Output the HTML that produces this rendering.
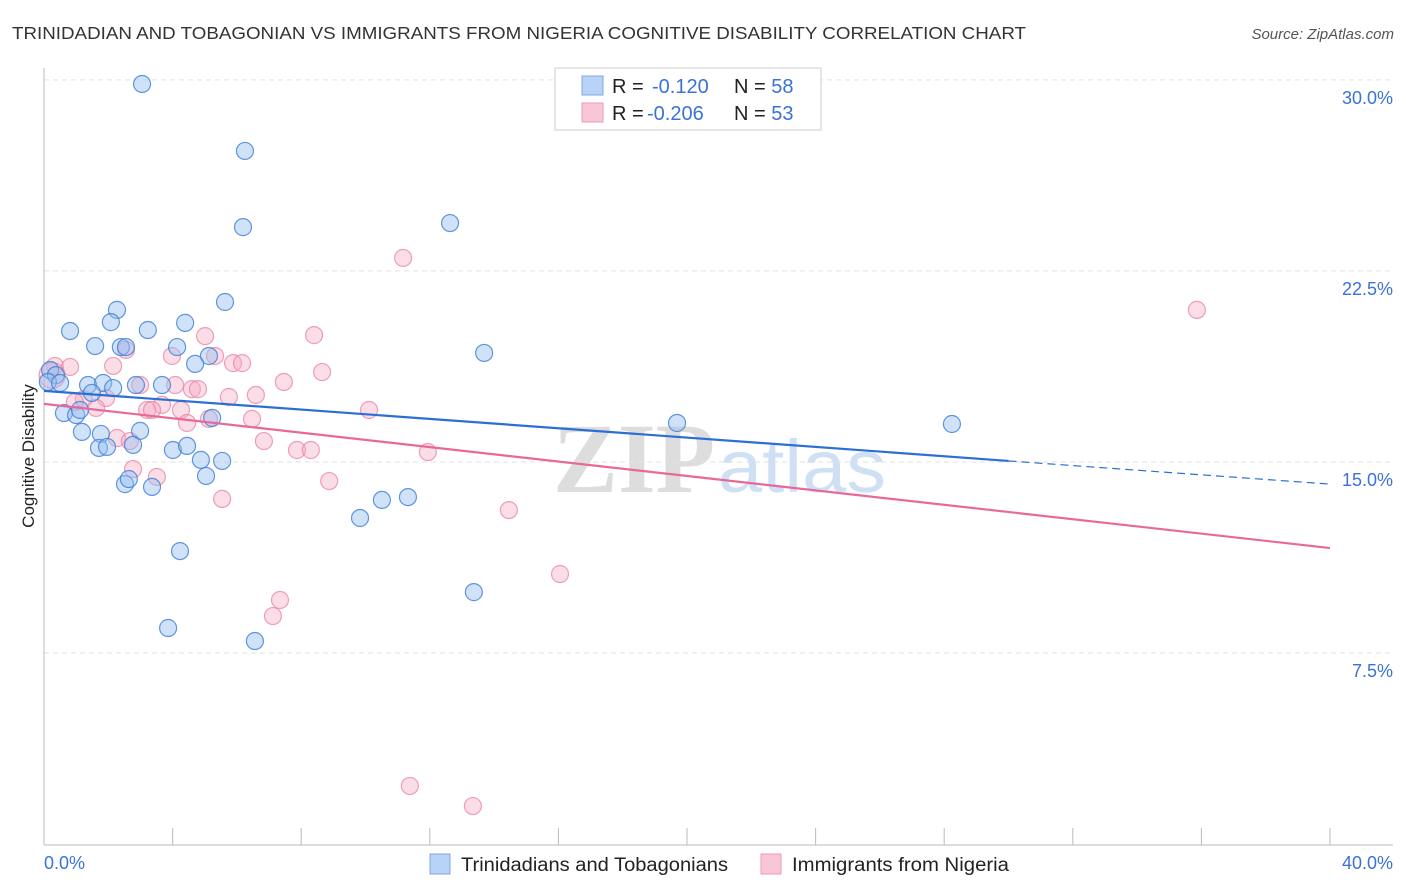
<!DOCTYPE html>
<html><head><meta charset="utf-8"><style>
body{margin:0;background:#fff;font-family:"Liberation Sans",sans-serif;}
svg{display:block}
</style></head><body>
<svg width="1406" height="892" id="chart" font-family="Liberation Sans, sans-serif">
<text x="12" y="39" font-size="17.5" fill="#333" textLength="1014" lengthAdjust="spacingAndGlyphs">TRINIDADIAN AND TOBAGONIAN VS IMMIGRANTS FROM NIGERIA COGNITIVE DISABILITY CORRELATION CHART</text>
<text x="1394" y="39" font-size="15" fill="#555" font-style="italic" text-anchor="end">Source: ZipAtlas.com</text>
<text x="553" y="492" font-size="100" font-family="Liberation Serif, serif" fill="#ddd" font-weight="bold" textLength="162" lengthAdjust="spacingAndGlyphs">ZIP</text>
<text x="718" y="492" font-size="74" fill="#cfe0f4" textLength="168" lengthAdjust="spacingAndGlyphs">atlas</text>
<g id="grid"></g>
<g id="axes"></g>
<g id="marks"></g>
<text transform="translate(34,456) rotate(-90)" font-size="17" fill="#222" text-anchor="middle">Cognitive Disability</text>
<text x="44" y="869" font-size="18" fill="#3a72d8">0.0%</text>
<text x="1393" y="869" font-size="18" fill="#3a72d8" text-anchor="end">40.0%</text>
<g>
<rect x="555" y="68" width="266" height="62" fill="#fff" stroke="#ccc"/>
<rect x="582" y="76" width="21" height="19" fill="#b8d3f6" stroke="#7ca6e6"/>
<rect x="582" y="103" width="21" height="19" fill="#f9c6d5" stroke="#ee9ab4"/>
<text x="612" y="93" font-size="20" fill="#222">R = <tspan x="652" fill="#3a72d8">-0.120</tspan><tspan x="734">N = </tspan><tspan fill="#3a72d8">58</tspan></text>
<text x="612" y="120" font-size="20" fill="#222">R = <tspan x="647" fill="#3a72d8">-0.206</tspan><tspan x="734">N = </tspan><tspan fill="#3a72d8">53</tspan></text>
</g>
<g>
<rect x="430" y="854" width="20" height="20" fill="#b8d3f6" stroke="#7ca6e6"/>
<text x="461" y="871" font-size="19" fill="#222" textLength="267" lengthAdjust="spacingAndGlyphs">Trinidadians and Tobagonians</text>
<rect x="761" y="854" width="20" height="20" fill="#f9c6d5" stroke="#ee9ab4"/>
<text x="792" y="871" font-size="19" fill="#222" textLength="217" lengthAdjust="spacingAndGlyphs">Immigrants from Nigeria</text>
</g>
</svg>
<script>
const yTicks=[7.5,15,22.5,30];
const yTickLabels=["7.5%","15.0%","22.5%","30.0%"];
const xTicks=[0,4,8,12,16,20,24,28,32,36,40];
const blueX=[3.05,6.25,6.19,12.63,5.63,2.27,2.08,0.81,3.23,4.39,1.59,2.39,2.55,4.14,5.13,4.70,13.69,0.19,0.37,0.12,0.50,1.37,1.84,2.15,2.86,3.67,1.49,0.62,1.00,1.12,5.23,19.69,28.24,1.18,1.77,2.99,1.71,1.96,2.77,4.01,4.45,4.88,5.54,5.04,2.52,2.64,3.36,10.51,11.32,9.83,4.23,13.37,3.86,6.56];
const blueY=[29.84,27.21,24.22,24.38,21.28,20.97,20.49,20.14,20.18,20.46,19.55,19.51,19.51,19.51,19.16,18.85,19.28,18.61,18.41,18.14,18.10,18.02,18.10,17.90,18.02,18.02,17.71,16.92,16.84,17.04,16.73,16.53,16.49,16.18,16.10,16.22,15.55,15.59,15.67,15.47,15.63,15.08,15.04,14.45,14.13,14.33,14.02,13.51,13.62,12.80,11.50,9.89,8.48,7.97];
const pinkX=[11.17,35.86,5.01,8.40,2.55,3.98,5.32,5.88,6.16,8.65,0.34,0.81,2.15,7.46,2.99,4.08,4.60,4.79,6.59,5.75,1.24,1.93,3.67,3.21,3.36,4.26,1.62,10.11,0.96,5.13,6.47,4.45,2.27,2.67,6.84,7.87,8.30,11.94,2.77,3.51,8.87,5.54,14.46,16.05,7.34,7.12,11.38,13.34,0.25];
const pinkY=[23.01,20.97,19.94,19.98,19.40,19.16,19.16,18.88,18.88,18.53,18.77,18.73,18.77,18.14,18.02,18.02,17.86,17.86,17.63,17.55,17.47,17.51,17.24,17.04,17.04,17.04,17.12,17.04,17.35,16.69,16.69,16.53,15.94,15.82,15.82,15.47,15.47,15.39,14.72,14.41,14.25,13.55,13.11,10.60,9.58,8.95,2.28,1.49,18.4];
const blueTrend=[17.79,15.04,14.13]; // at x=0, 30, 40
const pinkTrend=[17.28,11.62]; // at x=0, 40
const NS="http://www.w3.org/2000/svg";
const sx=v=>44+v*32.15;
const sy=v=>844-v*25.47;
function mk(tag,attrs,parent){const e=document.createElementNS(NS,tag);for(const k in attrs)e.setAttribute(k,attrs[k]);parent.appendChild(e);return e;}
const grid=document.getElementById('grid'),axes=document.getElementById('axes'),marks=document.getElementById('marks');
yTicks.forEach((t,i)=>{
  const l=mk('line',{x1:44,x2:1393,y1:sy(t),y2:sy(t),stroke:'#e2e2e2','stroke-dasharray':'5,4'},grid);
  
  
  const tx=mk('text',{x:1393,y:sy(t)+24,'font-size':18,fill:'#3a72d8','text-anchor':'end'},axes);
  tx.textContent=yTickLabels[i];
  
  
});
const ya=mk('line',{x1:44,x2:44,y1:68,y2:845,stroke:'#bbb'},axes);


const xa=mk('line',{x1:44,x2:1393,y1:845,y2:845,stroke:'#bbb'},axes);


xTicks.forEach(t=>{
  const l=mk('line',{x1:sx(t),x2:sx(t),y1:828,y2:845,stroke:'#bbb'},axes);
  
  
});
pinkX.forEach((x,i)=>{
  const c=mk('circle',{cx:sx(x),cy:sy(pinkY[i]),r:i==pinkX.length-1?13:8.5,fill:'rgba(246,170,195,0.4)',stroke:'rgba(232,130,165,0.75)','stroke-width':1.2},marks);
  
  
});
blueX.forEach((x,i)=>{
  const c=mk('circle',{cx:sx(x),cy:sy(blueY[i]),r:8.5,fill:'rgba(150,190,240,0.45)',stroke:'rgba(60,125,215,0.8)','stroke-width':1.2},marks);
  
  
});
const b1=mk('line',{x1:sx(0),y1:sy(blueTrend[0]),x2:sx(30),y2:sy(blueTrend[1]),stroke:'#2a6fd6','stroke-width':2.2},marks);


const b2=mk('line',{x1:sx(30),y1:sy(blueTrend[1]),x2:sx(40),y2:sy(blueTrend[2]),stroke:'#2a6fd6','stroke-width':1.2,'stroke-dasharray':'8,5'},marks);


const p1=mk('line',{x1:sx(0),y1:sy(pinkTrend[0]),x2:sx(40),y2:sy(pinkTrend[1]),stroke:'#e8689a','stroke-width':2.2},marks);


</script>
</body></html>
